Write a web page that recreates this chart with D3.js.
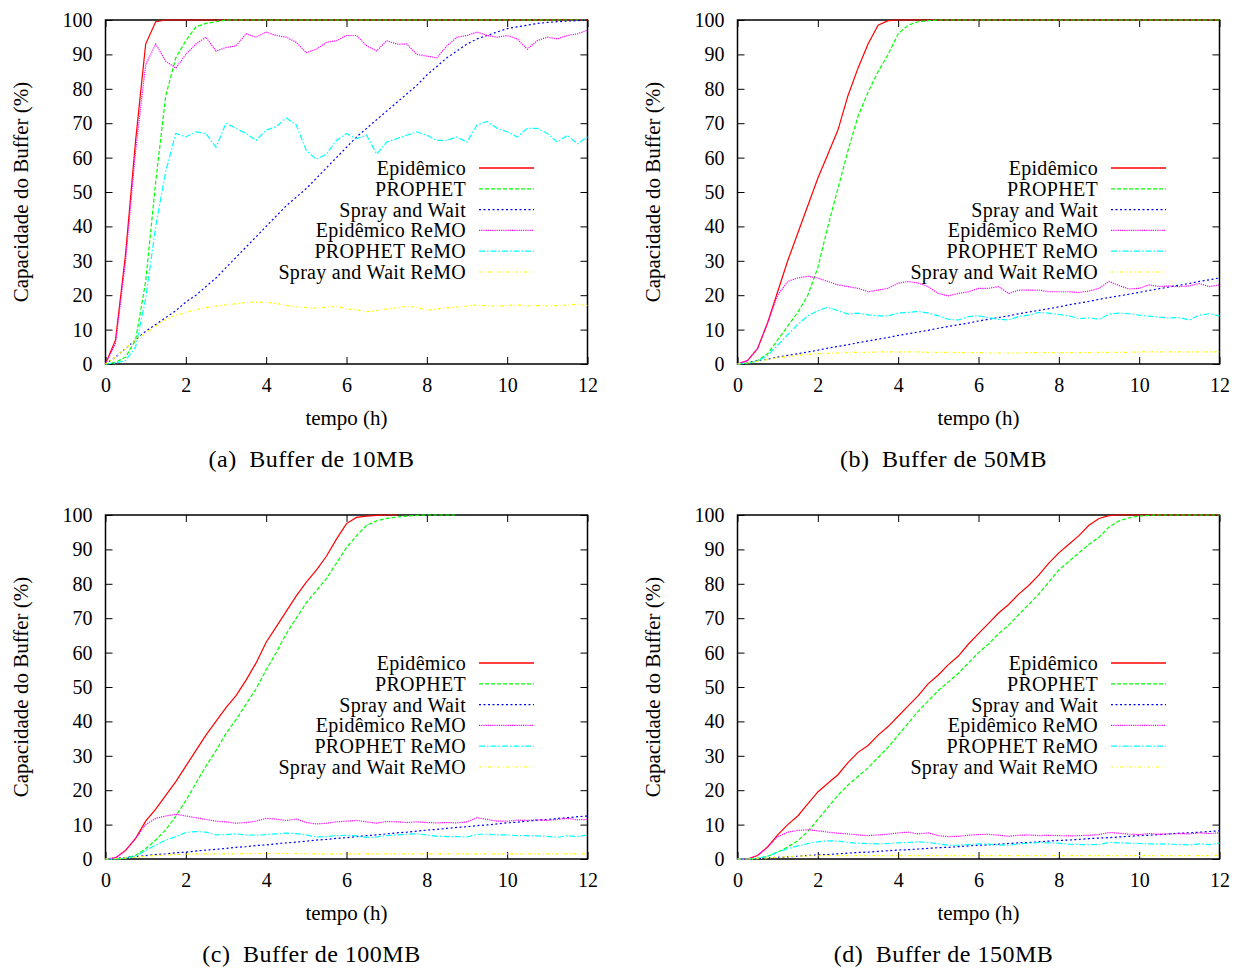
<!DOCTYPE html>
<html>
<head>
<meta charset="utf-8">
<script src="https://cdn.jsdelivr.net/npm/d3@7"></script>
<style>
  body { margin: 0; background: #fff; }
  text { font-family: "Liberation Serif", "Times New Roman", serif; fill: #000; }
</style>
</head>
<body>
<svg id="chart"></svg>
<script>
// time axis (hours), one sample every 15 min
let hours = [0,0.25,0.5,0.75,1,1.25,1.5,1.75,2,2.25,2.5,2.75,
  3,3.25,3.5,3.75,4,4.25,4.5,4.75,5,5.25,5.5,5.75,
  6,6.25,6.5,6.75,7,7.25,7.5,7.75,8,8.25,8.5,8.75,
  9,9.25,9.5,9.75,10,10.25,10.5,10.75,11,11.25,11.5,11.75,12]

let series_names = ["Epidêmico","PROPHET","Spray and Wait","Epidêmico ReMO","PROPHET ReMO","Spray and Wait ReMO"]
let caption_letters = ["(a)","(b)","(c)","(d)"]
let buffer_sizes = ["10MB","50MB","100MB","150MB"]
let x_ticks = [0,2,4,6,8,10,12]
let y_ticks = [0,10,20,30,40,50,60,70,80,90,100]

// --- buffer 10MB
let epi10 = [0,7,32,65,93,99.5,100,100,100,100,100,100,
  100,100,100,100,100,100,100,100,100,100,100,100,
  100,100,100,100,100,100,100,100,100,100,100,100,
  100,100,100,100,100,100,100,100,100,100,100,100,100]
let prophet10 = [0,0.5,2,7,24,53,78,89,94,98,99,99.5,
  100,100,100,100,100,100,100,100,100,100,100,100,
  100,100,100,100,100,100,100,100,100,100,100,100,
  100,100,100,100,100,100,100,100,100,100,100,100,100]
let spray10 = [0,2,4.5,7,9.5,11.5,13.5,15.5,18,20,22.5,25,
  28,31,34,37,40,43,46,48.5,51,54,57,60,
  63,66,68.5,71,73.5,76,78.5,81,84,86.5,89,91,
  93,94.5,95.5,96.5,97.5,98,98.5,99,99.3,99.5,99.7,99.8,100]
let epiRemo10 = [0,6,30,62,87,93,88,86,90,93,95,91,
  92,92.5,96,95,96.5,95.5,95,93.5,90.5,91.5,93.5,94,
  95.5,95.5,92.5,91,94,93,93,90,89.5,89,92.5,95,
  95.5,96.5,95.5,95,95.5,94.5,91.5,94,95,94.5,95.5,96,97]
let prophetRemo10 = [0,0.3,1,5,19,40,56,67,66,67.5,67,63,
  70,68.5,67,65,68,69,71.5,69.5,62,59.5,61,65,
  67,65.5,66.5,61,64.5,65.5,66.5,67.5,66.5,65,65,66,
  64.5,69.5,70.5,68.5,67.5,66,68.5,68.5,67,64.5,66.5,64,66]
let sprayRemo10 = [0,2,4.5,7,9,11,13,14.2,15,15.8,16.4,16.8,
  17.2,17.5,17.9,18,17.9,17.6,17,16.6,16.4,16.3,16.5,16.8,
  16,15.8,15.2,15.5,16,16.3,16.8,16.5,15.6,16,16.3,16.6,
  16.8,17.2,16.9,16.8,17,17.2,16.9,17,16.9,17,17.1,17.4,17]

// --- buffer 50MB
let epi50 = [0,1,4.5,12,21,30,38,46,54,61,68,78,
  86,93,98.5,99.8,100,100,100,100,100,100,100,100,
  100,100,100,100,100,100,100,100,100,100,100,100,
  100,100,100,100,100,100,100,100,100,100,100,100,100]
let prophet50 = [0,0.3,1,3,7,11,15,20,28,40,51,62,
  72,79,85,90,96,98.5,99.5,99.8,100,100,100,100,
  100,100,100,100,100,100,100,100,100,100,100,100,
  100,100,100,100,100,100,100,100,100,100,100,100,100]
let spray50 = [0,0.4,0.9,1.4,2,2.5,3,3.5,4,4.6,5.1,5.6,
  6.2,6.7,7.2,7.7,8.3,8.8,9.3,9.8,10.4,10.9,11.4,11.9,
  12.5,13,13.5,14,14.6,15.1,15.6,16.1,16.6,17.2,17.7,18.2,
  18.8,19.3,19.8,20.3,20.8,21.4,21.9,22.4,22.9,23.4,24,24.5,25]
let epiRemo50 = [0,1,4.5,12,20,24,25,25.5,25,24,23,22.5,
  22,21,21.5,22,23.5,24,23.5,22.5,20.5,19.8,20.5,21,
  22,22,22.5,20.5,21.5,21.5,21.5,21,21,21,20.8,21.2,
  22,24,22.8,21.8,22,23,22.5,22.7,22.5,22.7,23.4,22.5,23]
let prophetRemo50 = [0,0.2,0.8,2.5,5.5,8.5,11.5,14,15.5,16.5,15.5,14.5,
  14.8,14.3,14,14,14.8,15,15.3,14.8,14,13,12.8,13.8,
  14,13.5,13,12.8,13.8,14.2,15,14.8,14.4,14,13.2,13.4,
  13,14.5,14.8,14.6,14.2,13.9,13.6,13.4,13.5,12.8,14.2,14.6,14]
let sprayRemo50 = [0,0.3,0.8,1.3,1.8,2.2,2.5,2.8,3,3.1,3.2,3.3,
  3.4,3.4,3.5,3.5,3.5,3.5,3.5,3.4,3.4,3.4,3.3,3.3,
  3.3,3.2,3.2,3.2,3.2,3.3,3.3,3.3,3.3,3.3,3.3,3.3,
  3.4,3.4,3.4,3.4,3.5,3.5,3.5,3.5,3.5,3.5,3.5,3.5,3.5]

// --- buffer 100MB (logs stop once they hit 100%)
let epi100 = [0,0.3,2.5,6,11,14.5,18.5,22.5,27,31.5,36,40,
  44,47.5,52,57,63,67.5,72,76.5,80.5,84,88,93,
  97.5,99.3,99.7,99.9,100,100,null,null,null,null,null,null,
  null,null,null,null,null,null,null,null,null,null,null,null,null]
let prophet100 = [0,0,0.3,1,3,5.5,8.5,12.5,17,22,27,31.5,
  36.5,40.5,45,49.5,55,60,65.5,70,74.5,78,81.5,86,
  90.5,94,97,98.3,99,99.4,99.7,99.9,100,100,100,100,
  null,null,null,null,null,null,null,null,null,null,null,null,null]
let spray100 = [0,0.2,0.4,0.7,1,1.3,1.5,1.8,2,2.3,2.6,2.8,
  3.1,3.4,3.6,3.9,4.1,4.4,4.7,4.9,5.2,5.5,5.7,6,
  6.2,6.5,6.8,7,7.3,7.6,7.8,8.1,8.4,8.6,8.9,9.2,
  9.4,9.7,9.9,10.2,10.5,10.7,11,11.3,11.5,11.8,12,12.3,12.5]
let epiRemo100 = [0,0.3,2.5,6,10,11.8,12.5,13,12.5,12,11.5,11,
  10.8,10.4,10.6,11,11.8,11.6,11.2,11.6,10.6,10.2,10.4,10.8,
  11,11.2,10.8,10.4,10.9,10.8,10.6,10.8,10.6,10.5,10.6,10.5,
  10.8,12,11.5,11,11,11.3,11.2,11.4,11.2,11.5,11.8,11.4,11.5]
let prophetRemo100 = [0,0,0.2,0.8,2.5,4,5.5,6.5,7.7,8,7.8,7,
  7.1,7.3,7,6.9,7.1,7.3,7.5,7.4,7,6.4,6.5,6.8,
  6.9,6.7,6.3,6.4,6.8,7,7.2,7.3,7,6.6,6.5,6.5,
  6.4,7.2,7.2,7,7,6.8,6.8,6.7,6.6,6.3,6.8,6.5,7]
let sprayRemo100 = [0,0.1,0.3,0.5,0.8,1,1.2,1.3,1.4,1.5,1.5,1.5,
  1.5,1.5,1.6,1.6,1.6,1.6,1.6,1.6,1.5,1.5,1.5,1.5,
  1.5,1.5,1.5,1.5,1.5,1.5,1.5,1.5,1.5,1.5,1.5,1.5,
  1.5,1.5,1.5,1.5,1.5,1.5,1.5,1.5,1.5,1.5,1.5,1.5,1.5]

// --- buffer 150MB
let epi150 = [0,0,1,3.5,7,10,12.5,16,19.5,22,24.5,28,
  31,33,36,38.5,41.5,44.5,47.5,51,53.5,56.5,59,62.5,
  65.5,68.5,71.5,74,77,79.5,82.5,86,89,91.5,94,97,
  99,99.8,100,100,100,100,100,100,100,100,100,100,100]
let prophet150 = [0,0,0.2,0.8,2,3.5,5.3,8,11.5,15,18.5,21.5,
  24,26.5,29.5,32.5,36,39.5,43,46,49,51.5,54,57,
  60,62.5,65.5,68,71,74,77,80.5,84,86.5,89,91.5,
  93.5,96.5,98.3,99.2,99.7,99.9,100,100,100,100,100,100,100]
let spray150 = [0,0,0.1,0.3,0.5,0.6,0.8,1,1.2,1.3,1.5,1.7,
  1.9,2,2.2,2.4,2.6,2.7,2.9,3.1,3.3,3.4,3.6,3.8,
  4,4.1,4.3,4.5,4.7,4.8,5,5.2,5.4,5.5,5.7,5.9,
  6.1,6.2,6.4,6.6,6.8,6.9,7.1,7.3,7.5,7.6,7.8,8,8.2]
let epiRemo150 = [0,0,1,3.5,6.5,7.8,8.3,8.5,8.2,7.8,7.5,7.3,
  7,6.8,7,7.2,7.6,7.8,7.3,7.6,6.8,6.5,6.6,6.9,
  7.1,7.2,6.9,6.6,6.9,7,6.8,6.9,6.8,6.7,6.8,6.9,
  7.1,7.7,7.5,7.2,7.1,7.4,7.2,7.3,7.4,7.3,7.6,7.4,7.6]
let prophetRemo150 = [0,0,0.2,0.8,2,3,3.8,4.5,5,5.3,5.2,4.8,
  4.6,4.5,4.4,4.5,4.7,4.8,5,4.8,4.4,4,4,4.2,
  4.4,4.3,4.1,4,4.4,4.6,4.8,4.7,4.6,4.3,4.2,4.2,
  4.2,4.8,4.7,4.6,4.5,4.4,4.4,4.3,4.2,4.1,4.4,4.2,4.6]
let sprayRemo150 = [0,0,0.1,0.3,0.5,0.7,0.8,0.9,1,1,1,1,
  1,1,1,1,1,1,1,1,1,1,1,1,
  1,1,1,1,1,1,1,1,1,1,1,1,
  1,1,1,1,1,1,1,1,1,1,1,1,1]

let panel_data = [
  [epi10, prophet10, spray10, epiRemo10, prophetRemo10, sprayRemo10],
  [epi50, prophet50, spray50, epiRemo50, prophetRemo50, sprayRemo50],
  [epi100, prophet100, spray100, epiRemo100, prophetRemo100, sprayRemo100],
  [epi150, prophet150, spray150, epiRemo150, prophetRemo150, sprayRemo150]
]

// gnuplot-ish line styles
let colors = ["#ff0000","#00ff00","#0000ff","#ff00ff","#00ffff","#ffff00"]
let dashes = [null, "4,2", "2,2.5", "1.2,1", "6,2,1.5,2", "3,2.5,1,2.5"]

let W = 1235, H = 968
let svg = d3.select('#chart')
    .attr('width', W)
    .attr('height', H)

svg.append('rect').attr('width', W).attr('height', H).attr('fill', '#fff')

let boxes = [
  {left: 105.5, top: 20},
  {left: 737.5, top: 20},
  {left: 105.5, top: 515},
  {left: 737.5, top: 515}
]
let pw = 482, ph = 344
let tick_len = 7
let serif = '"Liberation Serif", "Times New Roman", serif'

boxes.forEach(function(b, p){
    let g = svg.append('g')
    let x = d3.scaleLinear().domain([0, 12]).range([b.left, b.left + pw])
    let y = d3.scaleLinear().domain([0, 100]).range([b.top + ph, b.top])

    // axes with inward ticks (mirrored like gnuplot)
    let ax_b = g.append('g').attr('transform', 'translate(0,' + (b.top + ph) + ')')
        .call(d3.axisBottom(x).tickValues(x_ticks).tickSize(-tick_len).tickPadding(14))
    let ax_t = g.append('g').attr('transform', 'translate(0,' + b.top + ')')
        .call(d3.axisTop(x).tickValues(x_ticks).tickSize(-tick_len).tickFormat(''))
    let ax_l = g.append('g').attr('transform', 'translate(' + b.left + ',0)')
        .call(d3.axisLeft(y).tickValues(y_ticks).tickSize(-tick_len).tickPadding(13))
    let ax_r = g.append('g').attr('transform', 'translate(' + (b.left + pw) + ',0)')
        .call(d3.axisRight(y).tickValues(y_ticks).tickSize(-tick_len).tickFormat(''))

    ;[ax_b, ax_t, ax_l, ax_r].forEach(function(a){
        a.attr('font-family', serif)
        a.select('.domain').remove()
        a.selectAll('line').attr('stroke', '#000').attr('stroke-width', 1)
        a.selectAll('text')
            .attr('font-family', serif)
            .attr('font-size', 20)
            .attr('fill', '#000')
    })

    g.append('rect')
        .attr('x', b.left).attr('y', b.top)
        .attr('width', pw).attr('height', ph)
        .attr('fill', 'none')
        .attr('stroke', '#000')
        .attr('stroke-width', 1.5)

    // data lines
    let line = d3.line()
        .defined(function(d){ return d[1] != null })
        .x(function(d){ return x(d[0]) })
        .y(function(d){ return y(d[1]) })

    panel_data[p].forEach(function(vals, s){
        let pts = hours.map(function(h, i){ return [h, vals[i]] })
        g.append('path')
            .attr('d', line(pts))
            .attr('fill', 'none')
            .attr('stroke', colors[s])
            .attr('stroke-width', 1.2)
            .attr('stroke-dasharray', dashes[s])
    })

    // legend
    let right = b.left + pw
    series_names.forEach(function(name, s){
        let ly = b.top + 148 + 20.8 * s
        g.append('text')
            .attr('x', right - 121.5)
            .attr('y', ly)
            .attr('dy', '0.35em')
            .attr('text-anchor', 'end')
            .attr('font-size', 20)
            .attr('letter-spacing', 0.3)
            .text(name)
        g.append('line')
            .attr('x1', right - 108.5).attr('x2', right - 53.5)
            .attr('y1', ly).attr('y2', ly)
            .attr('stroke', colors[s])
            .attr('stroke-width', s == 0 ? 1.5 : 1.2)
            .attr('stroke-dasharray', dashes[s])
    })

    // axis titles
    g.append('text')
        .attr('transform', 'translate(' + (b.left - 85) + ',' + (b.top + ph / 2) + ') rotate(-90)')
        .attr('text-anchor', 'middle')
        .attr('dy', '0.35em')
        .attr('font-size', 21)
        .text('Capacidade do Buffer (%)')

    g.append('text')
        .attr('x', b.left + pw / 2)
        .attr('y', b.top + ph + 54)
        .attr('dy', '0.35em')
        .attr('text-anchor', 'middle')
        .attr('font-size', 21)
        .text('tempo (h)')

    // sub-figure caption
    g.append('text')
        .attr('x', b.left + pw / 2 - 35)
        .attr('y', b.top + ph + 95)
        .attr('dy', '0.35em')
        .attr('text-anchor', 'middle')
        .attr('font-size', 24)
        .attr('letter-spacing', 0.5)
        .text(caption_letters[p] + '\u2002Buffer de ' + buffer_sizes[p])
})
</script>
</body>
</html>
